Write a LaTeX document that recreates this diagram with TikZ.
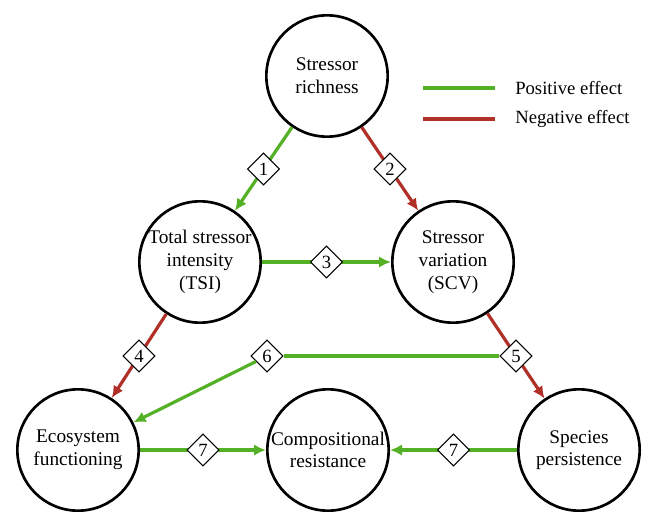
\documentclass[tikz,border=0pt]{standalone}
\usepackage{fontspec}
\setmainfont{Liberation Serif}
\usetikzlibrary{shapes.geometric,arrows.meta}
\definecolor{posgreen}{RGB}{84,176,37}
\definecolor{negred}{RGB}{176,48,40}

\begin{document}
\begin{tikzpicture}[x=0.75pt,y=-0.75pt,
    var/.style={draw,circle,line width=2pt,minimum size=91pt,inner sep=0pt,align=center,font=\fontsize{14.5}{17}\selectfont},
    numbox/.style={draw=black,text=black,diamond,fill=white,line width=0.8pt,minimum size=24pt,inner sep=0pt,font=\fontsize{14}{14}\selectfont},
    posline/.style={posgreen,line width=2.4pt},
    negline/.style={negred,line width=2.4pt},
    eff/.style={-{Latex[length=9pt,width=8.5pt]}}]
  \useasboundingbox (0,0) rectangle (648,513);
  \node[var] (rich) at (327,76) {Stressor\\richness};
  \node[var] (tsi) at (200,262) {Total stressor\\intensity\\(TSI)};
  \node[var] (scv) at (453,262) {Stressor\\variation\\(SCV)};
  \node[var] (eco) at (78,450) {Ecosystem\\functioning};
  \node[var] (comp) at (328,450) {Compositional\\resistance};
  \node[var] (pers) at (579,450) {Species\\persistence};

  \draw[posline,eff] (rich) -- (tsi) node[numbox,pos=.5] (d1) {1};
  \draw[negline,eff] (rich) -- (scv) node[numbox,pos=.5] (d2) {2};
  \draw[posline,eff] (tsi) -- (scv) node[numbox,pos=.5] (d3) {3};
  \draw[negline,eff] (tsi) -- (eco) node[numbox,pos=.5] (d4) {4};
  \draw[negline,eff] (scv) -- (pers) node[numbox,pos=.5] (d5) {5};
  \coordinate (c6) at (267,0);
  \node[numbox] (d6) at (c6 |- d5) {6};
  \draw[posline] (d5) -- (d6);
  \draw[posline,eff] (d6) -- (eco);
  \draw[posline,eff] (eco) -- (comp) node[numbox,pos=.5] (d7a) {7};
  \draw[posline,eff] (pers) -- (comp) node[numbox,pos=.5] (d7b) {7};

  \coordinate (lg1) at (423,88);
  \coordinate (lg2) at (495,88);
  \coordinate (lr1) at (423,119);
  \coordinate (lr2) at (495,119);
  \draw[posline] (lg1) -- (lg2);
  \draw[negline] (lr1) -- (lr2);
  \node[anchor=west,inner sep=0pt,font=\fontsize{14}{15}\selectfont] (lpos) at (515,88) {Positive effect};
  \node[anchor=west,inner sep=0pt,font=\fontsize{14}{15}\selectfont] (lneg) at (515,119) {Negative effect};
\end{tikzpicture}
\end{document}
